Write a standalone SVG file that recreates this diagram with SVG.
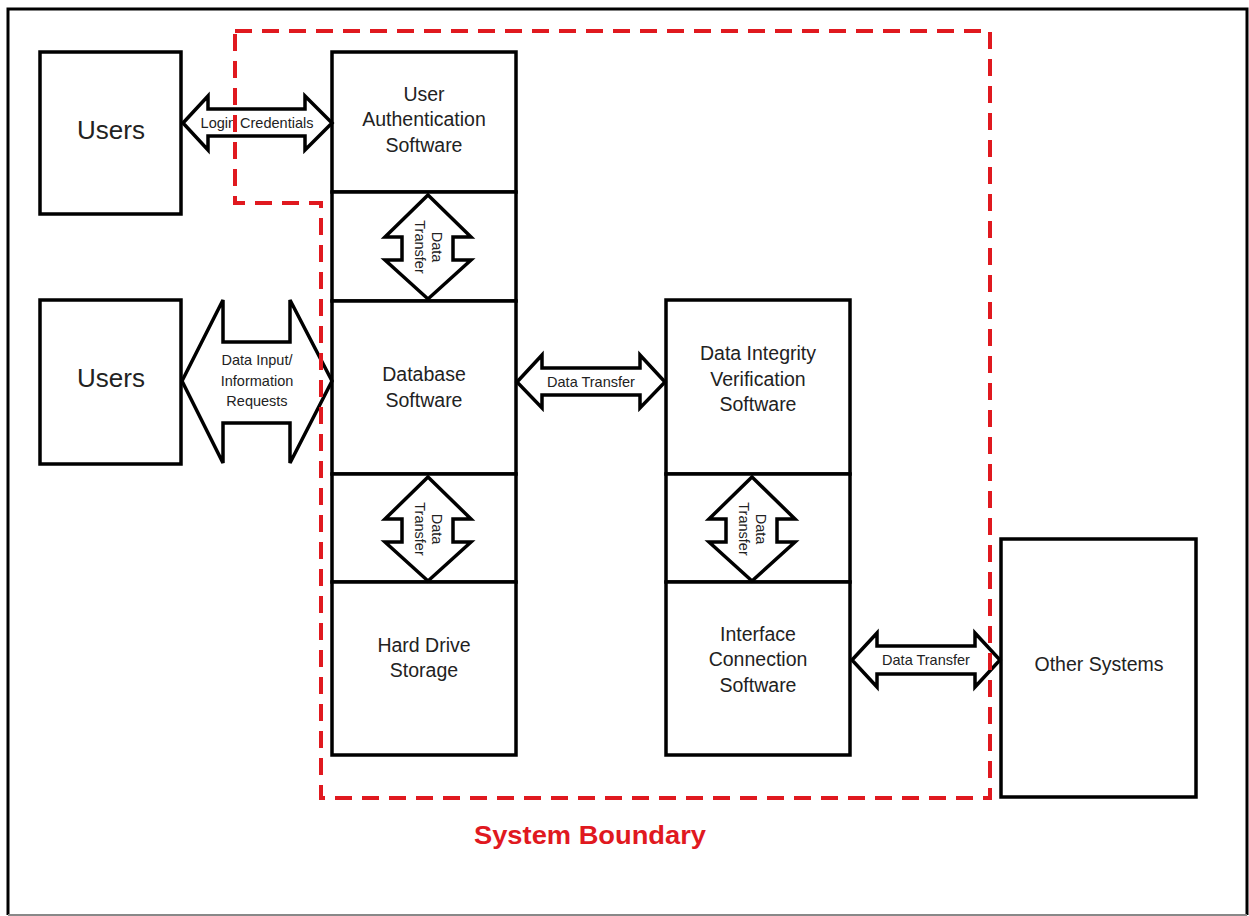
<svg xmlns="http://www.w3.org/2000/svg" width="1249" height="916" viewBox="0 0 1249 916">
<style>
.box{fill:#fff;stroke:#000;stroke-width:3.5}
.arr{fill:#fff;stroke:#000;stroke-width:3.5;stroke-linejoin:miter}
.lbl{font-family:"Liberation Sans",Arial,sans-serif;font-size:19.5px;fill:#222;text-anchor:middle}
.big{font-size:26px}
.sm{font-family:"Liberation Sans",Arial,sans-serif;font-size:14.5px;fill:#222;text-anchor:middle}
.bound{fill:none;stroke:#e0191f;stroke-width:4;stroke-dasharray:17 10}
</style>
<rect x="0" y="0" width="1249" height="916" fill="#fff"/>
<path d="M8,915 V9 H1247 V915" fill="none" stroke="#000" stroke-width="3"/>
<line x1="8" y1="915" x2="1247" y2="915" stroke="#888" stroke-width="2"/>

<g id="users1"><rect class="box" x="40" y="52" width="141" height="162"/><text class="lbl big" x="111" y="139">Users</text></g>
<g id="users2"><rect class="box" x="40" y="300" width="141" height="164"/><text class="lbl big" x="111" y="387">Users</text></g>

<g id="user-auth"><rect class="box" x="332" y="52" width="184" height="140"/>
<text class="lbl"><tspan x="424" y="101">User</tspan><tspan x="424" y="126">Authentication</tspan><tspan x="424" y="152">Software</tspan></text></g>
<g id="left-gap1"><rect class="box" x="332" y="192" width="184" height="109"/></g>
<g id="database"><rect class="box" x="332" y="301" width="184" height="173"/>
<text class="lbl"><tspan x="424" y="381">Database</tspan><tspan x="424" y="407">Software</tspan></text></g>
<g id="left-gap2"><rect class="box" x="332" y="474" width="184" height="108"/></g>
<g id="hard-drive"><rect class="box" x="332" y="582" width="184" height="173"/>
<text class="lbl"><tspan x="424" y="652">Hard Drive</tspan><tspan x="424" y="677">Storage</tspan></text></g>

<g id="data-integrity"><rect class="box" x="666" y="300" width="184" height="174"/>
<text class="lbl"><tspan x="758" y="360">Data Integrity</tspan><tspan x="758" y="386">Verification</tspan><tspan x="758" y="411">Software</tspan></text></g>
<g id="right-gap"><rect class="box" x="666" y="474" width="184" height="108"/></g>
<g id="interface"><rect class="box" x="666" y="582" width="184" height="173"/>
<text class="lbl"><tspan x="758" y="641">Interface</tspan><tspan x="758" y="666">Connection</tspan><tspan x="758" y="692">Software</tspan></text></g>

<g id="other-systems"><rect class="box" x="1001" y="539" width="195" height="258"/>
<text class="lbl" x="1099" y="671">Other Systems</text></g>

<g id="connectors">
<polygon class="arr" points="183,123 208,96 208,109 305,109 305,96 332,123 305,150 305,136 208,136 208,150"/>
<text class="sm" x="257" y="128">Login Credentials</text>

<polygon class="arr" points="182,381 223,300 223,342 290,342 290,300 332,381 290,463 290,423 223,423 223,463"/>
<text class="sm" font-size="15.5"><tspan x="257" y="365">Data Input/</tspan><tspan x="257" y="386">Information</tspan><tspan x="257" y="406">Requests</tspan></text>

<polygon class="arr" points="428,195 471,237 453,237 453,260 471,260 428,299 385,260 402,260 402,237 385,237"/>
<text class="sm" transform="translate(428,247) rotate(90)"><tspan x="0" y="-4">Data</tspan><tspan x="0" y="13">Transfer</tspan></text>

<polygon class="arr" points="428,477 471,519 453,519 453,542 471,542 428,581 385,542 402,542 402,519 385,519"/>
<text class="sm" transform="translate(428,529) rotate(90)"><tspan x="0" y="-4">Data</tspan><tspan x="0" y="13">Transfer</tspan></text>

<polygon class="arr" points="752,477 795,519 777,519 777,542 795,542 752,581 709,542 726,542 726,519 709,519"/>
<text class="sm" transform="translate(752,529) rotate(90)"><tspan x="0" y="-4">Data</tspan><tspan x="0" y="13">Transfer</tspan></text>

<polygon class="arr" points="517,382 542,355 542,368 640,368 640,355 665,382 640,408 640,395 542,395 542,408"/>
<text class="sm" x="591" y="387">Data Transfer</text>

<polygon class="arr" points="852,660 877,633 877,646 975,646 975,633 1000,660 975,687 975,674 877,674 877,687"/>
<text class="sm" x="926" y="665">Data Transfer</text>
</g>

<g id="system-boundary">
<path class="bound" d="M235,31 H990 V798 H321 V203 H235 Z"/>
<text x="590" y="844" font-family="'Liberation Sans',Arial,sans-serif" font-size="25" font-weight="bold" fill="#e0191f" text-anchor="middle" textLength="232" lengthAdjust="spacingAndGlyphs">System Boundary</text>
</g>
</svg>
